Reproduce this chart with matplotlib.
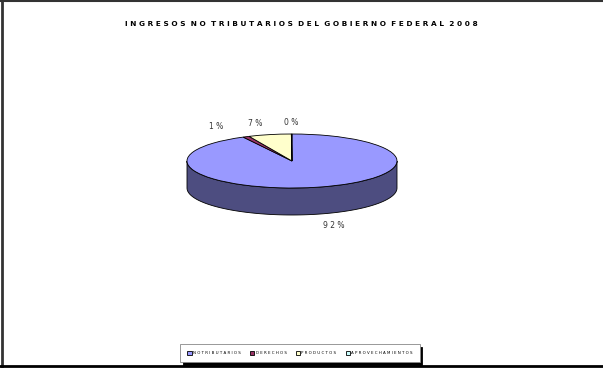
import numpy as np
import matplotlib
matplotlib.use("Agg")
import matplotlib.pyplot as plt
from matplotlib.colors import to_rgb
from matplotlib.lines import Line2D

# data
categorias = ['NO TRIBUTARIOS', 'DERECHOS', 'PRODUCTOS', 'APROVECHAMIENTOS']
valores = [92.3, 1.0, 6.6, 0.1]
colores = ['#9999FF', '#993366', '#FFFFCC', '#CCFFFF']
titulo = 'INGRESOS NO TRIBUTARIOS DEL GOBIERNO FEDERAL 2008'

DEPTH = 1.0  # thickness of the pie, in units of the vertical radius


def espaciar(txt, sep='  '):
    # letter spaced text, like the original
    return sep.join(' '.join(w) for w in txt.split(' '))


fig = plt.figure(figsize=(6.03, 3.70), dpi=100)
ax = fig.add_axes([0, 0, 1, 1])

wedges, _ = ax.pie(valores, colors=colores, startangle=90, counterclock=False,
                   wedgeprops=dict(edgecolor='black', linewidth=0.6), radius=1)
ax.set_aspect('auto')
# centre at pixel (292, 161), rx=105 px, ry=27 px
ax.set_xlim(-292 / 105, (603 - 292) / 105)
ax.set_ylim(-(370 - 161) / 27, 161 / 27)
ax.axis('off')

# side of the pie (front half only)
for w, c in zip(wedges, colores):
    t1, t2 = w.theta1, w.theta2
    for k in (-1, 0, 1):
        a = max(t1, 180 + 360 * k)
        b = min(t2, 360 + 360 * k)
        if b <= a:
            continue
        t = np.radians(np.linspace(a, b, 100))
        xs = np.concatenate([np.cos(t), np.cos(t[::-1])])
        ys = np.concatenate([np.sin(t), np.sin(t[::-1]) - DEPTH])
        side = tuple(v * 0.5 for v in to_rgb(c))
        ax.fill(xs, ys, facecolor=side, edgecolor='black', linewidth=0.6, zorder=0)

# percentage labels
total = sum(valores)
for w, v in zip(wedges, valores):
    mid = np.radians((w.theta1 + w.theta2) / 2)
    x = 1.65 * np.cos(mid)
    y = 1.44 * np.sin(mid)
    if np.sin(mid) < 0:
        y -= DEPTH
    ax.text(x, y, ' '.join('%d%%' % round(v / total * 100)), fontsize=5.5,
            ha='center', va='center', color='#333333')

fig.text(0.499, 1 - 24 / 370, espaciar(titulo), fontsize=5.3, fontweight='bold',
         ha='center', va='center')

leg = fig.legend(wedges, [espaciar(c, ' ') for c in categorias], loc='center',
                 bbox_to_anchor=(0.4975, 1 - 353 / 370), ncol=4, fontsize=2.9,
                 frameon=True, fancybox=False, shadow={'color': 'black', 'alpha': 1},
                 handlelength=1.1, handleheight=1.1, handletextpad=0.3,
                 columnspacing=2.3, borderpad=1.7, edgecolor='#888888')
leg.get_frame().set_linewidth(0.6)

# outer frame
fig.add_artist(Line2D([0, 1], [0.998, 0.998], color='#333333', lw=1.5))
fig.add_artist(Line2D([0.003, 0.003], [0.011, 1], color='#333333', lw=2))
fig.add_artist(Line2D([0, 1], [0.011, 0.011], color='black', lw=2))

fig.savefig('out.png', dpi=100)
